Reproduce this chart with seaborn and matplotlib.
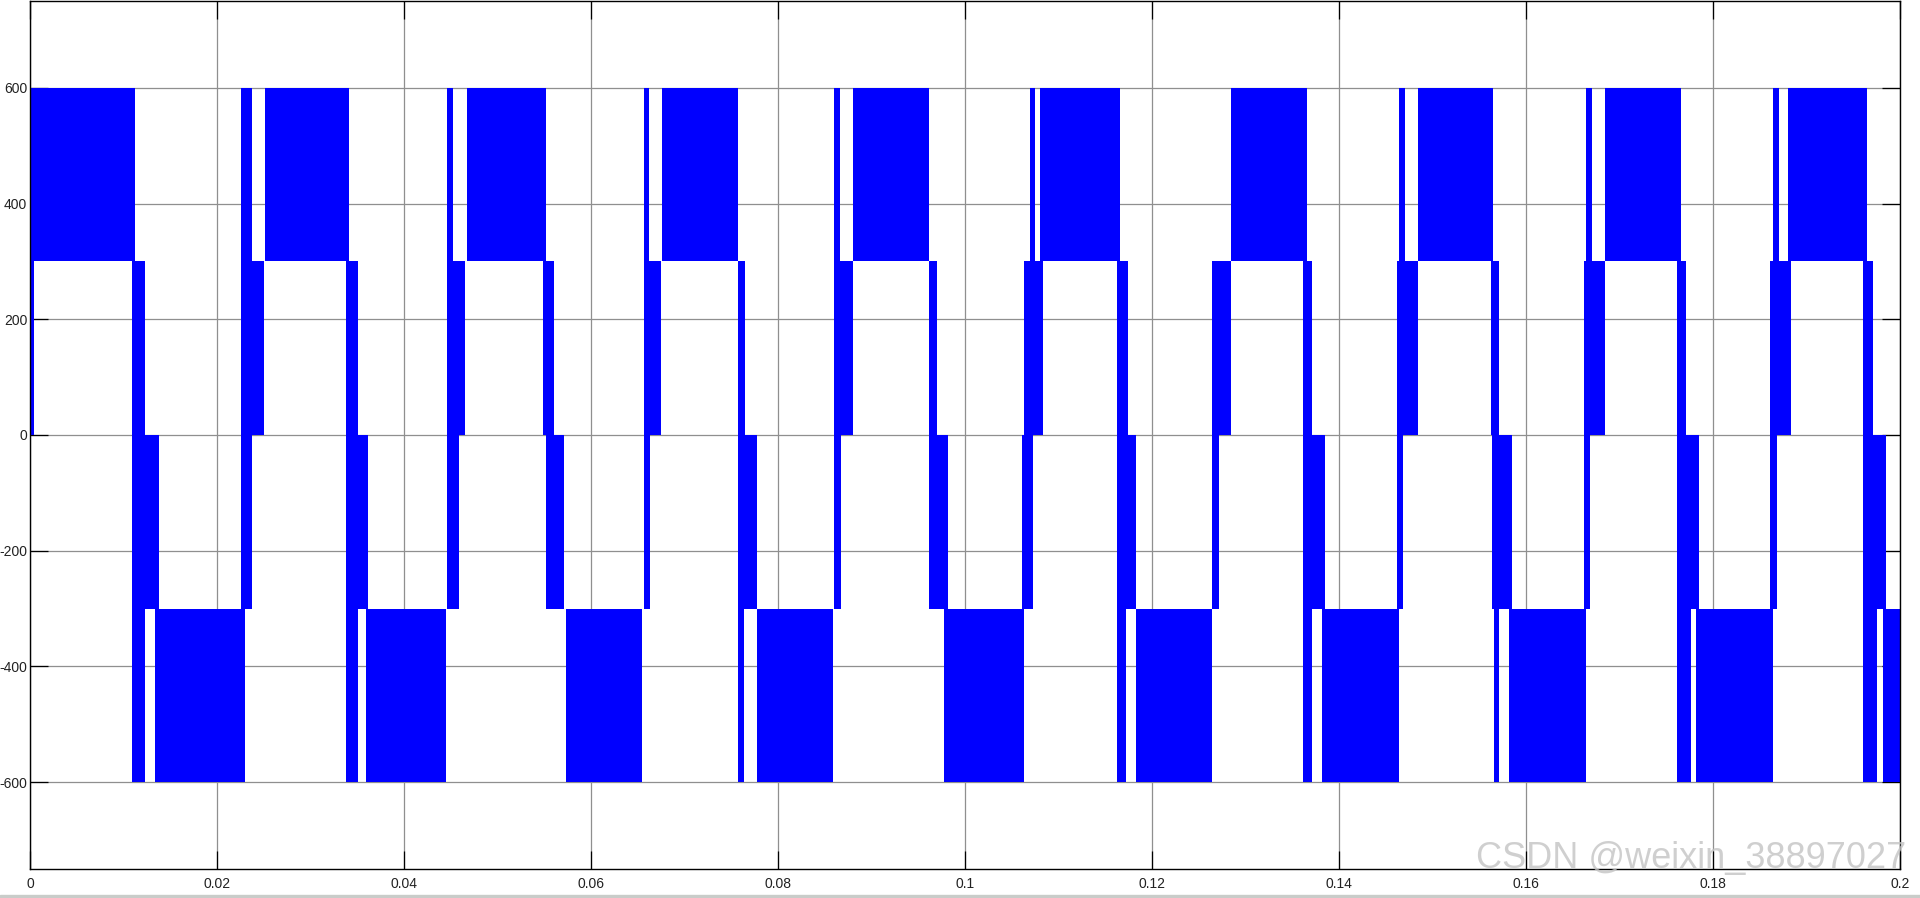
import matplotlib
matplotlib.use("Agg")
import matplotlib.pyplot as plt
import numpy as np
import pandas as pd
import seaborn as sns

# PWM bands of the line voltage (start, end) in seconds
band_300_600 = [(0.0, 0.01123), (0.02257, 0.02374), (0.02513, 0.03412), (0.04460, 0.04524),
                (0.04674, 0.05519), (0.06567, 0.06620), (0.06759, 0.07572), (0.08599, 0.08663),
                (0.08802, 0.09615), (0.10695, 0.10749), (0.10802, 0.11658), (0.12845, 0.13658),
                (0.14642, 0.14706), (0.14845, 0.15647), (0.16642, 0.16706), (0.16845, 0.17658),
                (0.18642, 0.18706), (0.18802, 0.19647)]
band_0_300 = [(0.0, 0.00043), (0.01091, 0.01230), (0.02257, 0.02503), (0.03380, 0.03508),
              (0.04460, 0.04652), (0.05487, 0.05604), (0.06567, 0.06749), (0.07572, 0.07647),
              (0.08599, 0.08802), (0.09615, 0.09701), (0.10631, 0.10834), (0.11626, 0.11743),
              (0.12642, 0.12845), (0.13615, 0.13711), (0.14620, 0.14845), (0.15626, 0.15711),
              (0.16620, 0.16845), (0.17615, 0.17711), (0.18610, 0.18834), (0.19604, 0.19711)]
band_m300_0 = [(0.01091, 0.01380), (0.02257, 0.02374), (0.03380, 0.03615), (0.04460, 0.04588),
               (0.05519, 0.05711), (0.06567, 0.06631), (0.07572, 0.07775), (0.08599, 0.08674),
               (0.09615, 0.09818), (0.10610, 0.10727), (0.11626, 0.11829), (0.12642, 0.12717),
               (0.13615, 0.13850), (0.14620, 0.14684), (0.15636, 0.15850), (0.16620, 0.16684),
               (0.17615, 0.17850), (0.18610, 0.18684), (0.19604, 0.19850)]
band_m600_m300 = [(0.01091, 0.01230), (0.01337, 0.02299), (0.03380, 0.03508), (0.03594, 0.04449),
                  (0.05733, 0.06545), (0.07572, 0.07636), (0.07775, 0.08588), (0.09775, 0.10631),
                  (0.11626, 0.11722), (0.11829, 0.12642), (0.13615, 0.13711), (0.13818, 0.14642),
                  (0.15658, 0.15711), (0.15818, 0.16642), (0.17615, 0.17765), (0.17818, 0.18642),
                  (0.19604, 0.19754), (0.19818, 0.2)]

x_ticks = [0, 0.02, 0.04, 0.06, 0.08, 0.1, 0.12, 0.14, 0.16, 0.18, 0.2]
x_labels = ['0', '0.02', '0.04', '0.06', '0.08', '0.1', '0.12', '0.14', '0.16', '0.18', '0.2']
y_ticks = [-600, -400, -200, 0, 200, 400, 600]
y_labels = ['-600', '-400', '-200', '0', '200', '400', '600']

rows = []
for (lo, hi), bands in [((300, 600), band_300_600), ((0, 300), band_0_300),
                        ((-300, 0), band_m300_0), ((-600, -300), band_m600_m300)]:
    for s, e in bands:
        rows.append((s, e, lo, hi))
df = pd.DataFrame(rows, columns=['start', 'end', 'low', 'high'])

sns.set_theme(style="ticks")
plt.rcParams['font.family'] = ['Liberation Sans', 'DejaVu Sans']

fig = plt.figure(figsize=(19.2, 8.98), dpi=100)
ax = fig.add_axes([30 / 1920, 29 / 898, 1870 / 1920, 868 / 898])

ax.bar(df['start'], df['high'] - df['low'], width=df['end'] - df['start'], bottom=df['low'],
       align='edge', color='#0000ff', linewidth=0)

ax.set_xlim(0, 0.2)
ax.set_ylim(-750, 750)
ax.set_xticks(x_ticks)
ax.set_xticklabels(x_labels)
ax.set_yticks(y_ticks)
ax.set_yticklabels(y_labels)
ax.set_axisbelow(True)
ax.grid(True, color='#8f8f8f', linewidth=0.9)
ax.tick_params(direction='in', length=13, width=0.9, color='black', top=True, right=True,
               labelsize=10, labelcolor='#222222')
ax.tick_params(axis='x', pad=6)
ax.tick_params(axis='y', pad=2)
for sp in ax.spines.values():
    sp.set_color('black')
    sp.set_linewidth(1.0)

fig.text(0.9927, 30 / 898, 'CSDN @weixin_38897027', ha='right', va='baseline',
         fontsize=26, color='#c4c4c4', alpha=0.8)
fig.patches.append(matplotlib.patches.Rectangle((0, 0), 1, 3 / 898, transform=fig.transFigure,
                                                color='#c9ccc9', zorder=0))

fig.savefig('out.png', dpi=100)
